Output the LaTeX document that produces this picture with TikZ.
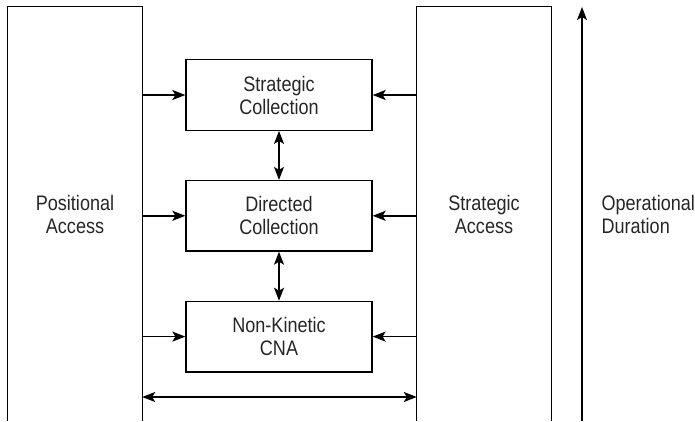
\documentclass[tikz,border=0pt]{standalone}
\usepackage{fontspec}
\setmainfont{Liberation Sans}[FakeStretch=0.86]
\usepackage{tikz}
\usetikzlibrary{arrows.meta, positioning}

\begin{document}
\begin{tikzpicture}[x=1pt, y=-1pt, node distance=49pt,
    every node/.style={font=\fontsize{21}{23}\selectfont, text=black!85, align=center},
    column/.style={minimum width=134pt, minimum height=414pt, inner sep=0pt},
    block/.style={draw, line width=1.3pt, rectangle, minimum width=186pt, minimum height=70.5pt, inner sep=0pt},
    link/.style={-{Stealth[length=13pt, width=10pt, inset=3pt]}, line width=1.5pt},
    dlink/.style={{Stealth[length=13pt, width=10pt, inset=3pt]}-{Stealth[length=13pt, width=10pt, inset=3pt]}, line width=1.5pt}]

    \useasboundingbox (0,0) rectangle (695,421);

    % Columns
    \node[column] (pos) at (75,214) {Positional\\Access};
    \node[column] (strat) at (484,214) {Strategic\\Access};
    \draw[line width=1.3pt] (pos.south west) |- (pos.north east) -- (pos.south east);
    \draw[line width=1.3pt] (strat.south west) |- (strat.north east) -- (strat.south east);

    % Nodes
    \node[block] (sc) at (279,95) {Strategic\\Collection};
    \node[block, below=of sc] (dc) {Directed\\Collection};
    \node[block, below=of dc] (nk) {Non-Kinetic\\CNA};

    % Interactions
    \foreach \b in {sc, dc, nk} {
        \draw[link] (pos.east |- \b) -- (\b);
        \draw[link] (strat.west |- \b) -- (\b);
    }
    \draw[dlink] (sc) -- (dc);
    \draw[dlink] (dc) -- (nk);

    \coordinate (span) at (0,397);
    \draw[dlink] (pos.east |- span) -- (strat.west |- span);

    % Duration axis
    \coordinate (tlow) at (582,421);
    \coordinate (thigh) at (582,7);
    \draw[link] (tlow) -- (thigh);
    \node[anchor=west, align=left] (dur) at (598,214) {Operational\\Duration};

\end{tikzpicture}
\end{document}
